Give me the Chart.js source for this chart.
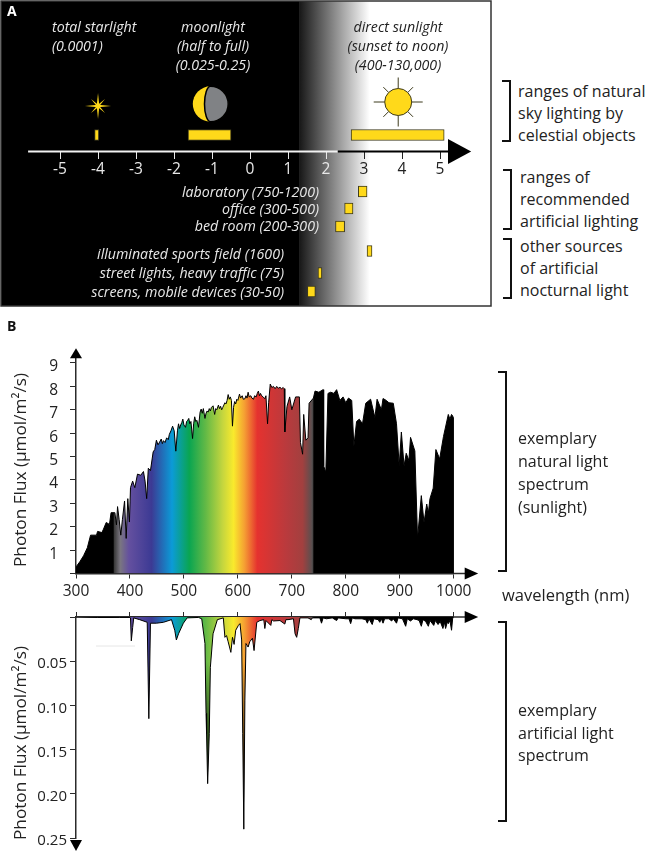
<!DOCTYPE html>
<html>
<head>
<meta charset="utf-8">
<script src="https://cdn.jsdelivr.net/npm/chart.js"></script>
<style>
  html, body { margin: 0; padding: 0; background: #fff; }
  #page { position: relative; width: 649px; height: 853px; overflow: hidden; font-family: "Open Sans", sans-serif; }
  canvas { position: absolute; }
  .note { position: absolute; white-space: nowrap; line-height: 1; transform: translateY(-50%); }
  .bracket { position: absolute; box-sizing: border-box; border: 2px solid #111; border-left: 0; width: 9px; }
</style>
</head>
<body>
<div id="page">
  <canvas id="panelA" width="495" height="310" style="left:0px;top:0px"></canvas>
  <canvas id="panelB1" width="649" height="290" style="left:0px;top:330px"></canvas>
  <canvas id="panelB2" width="649" height="243" style="left:0px;top:610px"></canvas>
</div>
<script>
// ------------------------------------------
//  Data
// ------------------------------------------

// Panel A: log10(lux) ranges
var luxSources = ['total starlight', 'moonlight', 'direct sunlight', 'laboratory', 'office', 'bed room', 'sports field', 'street lights', 'screens'];
var logLuxLow  = [-4.09, -1.63, 2.66, 2.85, 2.49, 2.25, 3.08, 1.79, 1.51];
var logLuxHigh = [-3.98, -0.50, 5.11, 3.08, 2.71, 2.49, 3.21, 1.89, 1.72];
var luxTicks = [-5, -4, -3, -2, -1, 0, 1, 2, 3, 4, 5];

// Panel B, sunlight spectrum
var sunWavelength = [
    300,307,314,321,327,338,340,348,351,356,362,365,372,375,377,380,383,386,390,393,396,399,401,405,409,414,420,425,428,431,434,438,
    443,446,449,452,455,458,460,462,465,468,471,473,476,479,482,485,488,490,492,494,496,498,500,503,505,507,509,511,513,516,518,520,522,524,527,530,532,534,536,539,541,543,545,547,549,551,554,557,559,561,564,566,568,570,572,574,576,578,580,582,584,586,588,590,592,594,596,598,600,603,605,608,610,613,615,617,619,621,624,626,629,631,634,636,638,640,642,644,647,650,652,655,657,660,663,666,669,672,675,678,681,684,
    686,687,691,696,700,707,714,716,720,722,726,730,732,740,743,750,758,759,763,767,772,778,783,789,795,800,805,811,815,820,825,831,837,846,854,858,866,869,875,880,888,894,899,903,908,912,917,920,928,933,940,945,950,953,956,962,967,974,981,990,993,996,1000,1000
];
var sunFlux = [
    0.28,0.5,0.76,1.1,1.64,1.64,1.8,1.75,1.9,2.18,2.1,2.6,2.6,2.08,2.86,2.3,1.64,2.3,3.1,1.5,3.2,2.2,3.67,3.95,3.67,4.25,4.2,4.36,3.95,3.2,4.5,4.4,
    5.2,5.3,5.7,5.5,5.62,5.75,5.55,5.68,5.6,5.8,5.72,5.95,6.1,6.3,6.1,5.23,6.1,6.4,6.2,6.35,6.45,6.6,6.35,6.25,6.5,6.55,6.63,6.4,6.5,5.77,6.4,6.7,6.5,6.55,6.25,6.9,7.03,6.85,7.05,6.63,6.85,6.95,6.9,7.05,6.95,7.1,7.17,6.8,7.05,7.0,7.2,7.05,7.15,7.0,7.1,7.2,7.3,7.25,7.4,7.65,7.45,7.55,7.4,6.3,7.1,7.35,7.25,7.45,7.4,7.67,7.5,7.6,7.45,7.47,7.6,7.5,7.75,7.55,7.6,7.5,7.45,7.6,7.55,7.7,7.8,7.6,7.7,7.6,7.55,7.47,7.6,6.4,7.3,8.1,7.95,8.0,7.9,8.0,7.92,7.96,7.9,7.95,
    7.9,6.05,7.14,7.55,7.0,7.55,7.55,5.6,5.1,6.8,5.7,5.8,7.28,7.5,7.8,7.75,7.86,4.6,4.33,7.7,7.75,7.7,7.86,7.4,7.55,7.3,7.5,7.4,5.44,6.5,6.6,6.4,7.28,7.45,6.67,7.45,7.0,7.48,7.4,7.3,7.28,6.4,4.6,6.05,4.6,5.14,4.83,5.82,5.24,1.5,3.33,2.18,2.97,2.58,3.2,3.65,5.3,4.9,5.85,6.8,6.6,6.8,6.67,0
];

// Panel B, artificial light spectrum
var lampWavelength = [300,340,380,400,401,402.5,405,407,418,432,435,438,449,462,477,483,486,490,499,506,527,533,539,541,542,544,547,549,554,562,573,576,579,582,587,590,593,596,601,604,607,609,611,613,615,619,622,627,630,635,641,648,650,652,661,663,666,678,687,689,693,703,706,709,712,715,730,736,738,752,755,758,764,775,783,786,800,806,809,812,817,830,837,840,843,849,852,860,863,866,869,872,880,885,888,894,897,905,911,914,920,925,932,936,940,943,948,953,956,963,966,971,975,980,983,985,988,990,993,996,998,1000];
var lampFlux = [0,0.0005,0.0005,0.0005,0.001,0.027,0.012,0.001,0.003,0.006,0.115,0.007,0.007,0.006,0.003,0.015,0.026,0.019,0.007,0.001,0.0005,0.002,0.03,0.109,0.132,0.1885,0.132,0.057,0.019,0.003,0.001,0.023,0.021,0.028,0.04,0.023,0.031,0.015,0.0095,0.0075,0.026,0.132,0.24,0.094,0.03,0.034,0.028,0.024,0.038,0.006,0.004,0.003,0.013,0.004,0.0095,0.003,0.0045,0.004,0.008,0.003,0.003,0.002,0.019,0.023,0.013,0.001,0.001,0.003,0.001,0.001,0.007,0.001,0.002,0.001,0.004,0.001,0.002,0.002,0.0075,0.001,0.002,0.002,0.003,0.007,0.002,0.0085,0.002,0.003,0.006,0.002,0.007,0.002,0.002,0.0045,0.002,0.007,0.001,0.002,0.0105,0.002,0.0045,0.002,0.003,0.004,0.0105,0.003,0.005,0.0105,0.004,0.0095,0.004,0.0085,0.005,0.013,0.006,0.013,0.006,0.0075,0.004,0.015,0.002,0];

var fluxTicksUp = [0, 1, 2, 3, 4, 5, 6, 7, 8, 9];
var fluxTicksDown = [0, 0.05, 0.10, 0.15, 0.20, 0.25];
var wavelengthTicks = [300, 400, 500, 600, 700, 800, 900, 1000];

// Rainbow fill, wavelength and colour
var rainbowNm = [300, 369, 371, 382, 398, 440, 478, 510, 540, 572, 592, 612, 636, 690, 720, 738, 741, 1000];
var rainbowColor = ['#000000', '#000000', '#3a3a3a', '#7a7680', '#64509f', '#3c3a94', '#0b9bd7', '#0aa551', '#62b946', '#c5d63e', '#f9ea2c', '#f5a033', '#e5322f', '#b93a3d', '#a2403f', '#555050', '#000000', '#000000'];

// Row of each bar in panel A, measured from the top of the box
var luxRows = [134, 134, 134, 190.5, 207.5, 225.5, 250, 272, 290.5];

// Everything written as text around the charts: [text, x, y, align, size, colour, style]
var notes = [
    ['A', 7, 11, 'left', 14, '#fff', 'bold'],
    ['B', 7, 326, 'left', 14, '#111', 'bold'],
    ['total starlight', 52, 27, 'left', 14.2, '#e8e8e8', 'italic'],
    ['(0.0001)', 52, 46, 'left', 14.2, '#e8e8e8', 'italic'],
    ['moonlight', 213, 27, 'center', 14.2, '#e8e8e8', 'italic'],
    ['(half to full)', 213, 46, 'center', 14.2, '#e8e8e8', 'italic'],
    ['(0.025-0.25)', 213, 65, 'center', 14.2, '#e8e8e8', 'italic'],
    ['direct sunlight', 398, 27, 'center', 14.2, '#222', 'italic'],
    ['(sunset to noon)', 398, 46, 'center', 14.2, '#222', 'italic'],
    ['(400-130,000)', 398, 65, 'center', 14.2, '#222', 'italic'],
    ['laboratory (750-1200)', 319, 192, 'right', 14.2, '#e8e8e8', 'italic'],
    ['office (300-500)', 319, 209, 'right', 14.2, '#e8e8e8', 'italic'],
    ['bed room (200-300)', 319, 226, 'right', 14.2, '#e8e8e8', 'italic'],
    ['illuminated sports field (1600)', 284, 254, 'right', 14.2, '#e8e8e8', 'italic'],
    ['street lights, heavy traffic (75)', 284, 273, 'right', 14.2, '#e8e8e8', 'italic'],
    ['screens, mobile devices (30-50)', 284, 292, 'right', 14.2, '#e8e8e8', 'italic'],
    ['ranges of natural', 518, 91, 'left', 16, '#222', ''],
    ['sky lighting by', 518, 113, 'left', 16, '#222', ''],
    ['celestial objects', 518, 135, 'left', 16, '#222', ''],
    ['ranges of', 520, 177, 'left', 16, '#222', ''],
    ['recommended', 520, 199, 'left', 16, '#222', ''],
    ['artificial lighting', 520, 221, 'left', 16, '#222', ''],
    ['other sources', 520, 246, 'left', 16, '#222', ''],
    ['of artificial', 520, 268, 'left', 16, '#222', ''],
    ['nocturnal light', 520, 290, 'left', 16, '#222', ''],
    ['wavelength (nm)', 502, 595, 'left', 16.5, '#222', ''],
    ['exemplary', 518, 438, 'left', 16, '#222', ''],
    ['natural light', 518, 461, 'left', 16, '#222', ''],
    ['spectrum', 518, 484, 'left', 16, '#222', ''],
    ['(sunlight)', 518, 507, 'left', 16, '#222', ''],
    ['exemplary', 518, 710, 'left', 16, '#222', ''],
    ['artificial light', 518, 733, 'left', 16, '#222', ''],
    ['spectrum', 518, 755, 'left', 16, '#222', '']
];

// Rotated axis titles: [text, centre x, centre y, size]
var axisTitles = [
    ['Photon Flux (µmol/m²/s)', 20, 470, 17.2],
    ['Photon Flux (µmol/m²/s)', 20, 743, 17.2]
];

// Brackets: [x, top, bottom]
var brackets = [[502, 80, 142], [503, 169, 230], [503, 238, 299], [498, 371, 572], [498, 621, 822]];

var sunYellow = '#ffd91a';
var axisColor = '#2b2b2b';

// ------------------------------------------
//  Text and brackets
// ------------------------------------------
var page = document.getElementById('page');
notes.forEach(function (n) {
    var el = document.createElement('div');
    el.className = 'note';
    el.textContent = n[0];
    el.style.top = n[2] + 'px';
    el.style.fontSize = n[4] + 'px';
    el.style.color = n[5];
    el.style.zIndex = 2;
    if (n[6] === 'bold') el.style.fontWeight = 'bold';
    if (n[6] === 'italic') el.style.fontStyle = 'italic';
    if (n[3] === 'right') {
        el.style.right = (649 - n[1]) + 'px';
    } else {
        el.style.left = n[1] + 'px';
        if (n[3] === 'center') el.style.transform = 'translate(-50%, -50%)';
    }
    page.appendChild(el);
});
axisTitles.forEach(function (t) {
    var el = document.createElement('div');
    el.className = 'note';
    el.textContent = t[0];
    el.style.left = t[1] + 'px';
    el.style.top = t[2] + 'px';
    el.style.fontSize = t[3] + 'px';
    el.style.color = '#222';
    el.style.zIndex = 2;
    el.style.transform = 'translate(-50%, -50%) rotate(-90deg)';
    page.appendChild(el);
});
brackets.forEach(function (b) {
    var el = document.createElement('div');
    el.className = 'bracket';
    el.style.left = b[0] + 'px';
    el.style.top = b[1] + 'px';
    el.style.height = (b[2] - b[1]) + 'px';
    page.appendChild(el);
});

// ------------------------------------------
//  Panel A decorations
// ------------------------------------------
function triangle(c, x1, y1, x2, y2, x3, y3, color) {
    c.fillStyle = color;
    c.beginPath();
    c.moveTo(x1, y1);
    c.lineTo(x2, y2);
    c.lineTo(x3, y3);
    c.closePath();
    c.fill();
}

function drawStar(c, x, y) {
    c.fillStyle = sunYellow;
    [[13, 0], [0, 13], [7, 7], [7, -7]].forEach(function (d) {
        var nx = -d[1] / 13 * 1.3, ny = d[0] / 13 * 1.3;
        c.beginPath();
        c.moveTo(x - d[0], y - d[1]);
        c.lineTo(x + nx, y + ny);
        c.lineTo(x + d[0], y + d[1]);
        c.lineTo(x - nx, y - ny);
        c.closePath();
        c.fill();
    });
}

function drawMoon(c, x, y, r) {
    c.fillStyle = sunYellow;
    c.beginPath();
    c.arc(x, y, r, 0, Math.PI * 2);
    c.fill();
    c.fillStyle = '#808285';
    c.strokeStyle = '#000';
    c.lineWidth = 1.5;
    c.beginPath();
    c.arc(x, y, r, -Math.PI / 2, Math.PI / 2);
    c.ellipse(x, y, 6, r, 0, Math.PI / 2, Math.PI * 1.5);
    c.closePath();
    c.fill();
    c.stroke();
}

function drawSun(c, x, y, r) {
    c.strokeStyle = '#3d3a1c';
    c.lineWidth = 1;
    c.beginPath();
    for (var i = 0; i < 8; i++) {
        var a = i * Math.PI / 4;
        var len = i % 2 ? 21 : 24.5;
        c.moveTo(x + Math.cos(a) * r, y + Math.sin(a) * r);
        c.lineTo(x + Math.cos(a) * len, y + Math.sin(a) * len);
    }
    c.stroke();
    c.fillStyle = sunYellow;
    c.beginPath();
    c.arc(x, y, r, 0, Math.PI * 2);
    c.fill();
    c.stroke();
}

var panelAPlugin = {
    id: 'panelA',
    beforeDraw: function (chart) {
        var c = chart.ctx, a = chart.chartArea, sx = chart.scales.x;
        var g = c.createLinearGradient(sx.getPixelForValue(1.29), 0, sx.getPixelForValue(3.15), 0);
        g.addColorStop(0, '#161616');
        g.addColorStop(0.5, '#8a8a8a');
        g.addColorStop(1, '#ffffff');
        c.save();
        c.fillStyle = '#fff';
        c.fillRect(a.left, a.top, a.width, a.height);
        c.fillStyle = '#000';
        c.fillRect(a.left, a.top, sx.getPixelForValue(1.29) - a.left, a.height);
        c.fillStyle = g;
        c.fillRect(sx.getPixelForValue(1.29), a.top, sx.getPixelForValue(3.15) - sx.getPixelForValue(1.29), a.height);
        c.restore();
    },
    afterDatasetsDraw: function (chart) {
        var c = chart.ctx, a = chart.chartArea, sx = chart.scales.x, sy = chart.scales.y;
        var axisY = sy.getPixelForValue(150.5);
        c.save();
        // log axis, white then black, then the arrow
        c.lineWidth = 2;
        c.strokeStyle = '#f2f2f2';
        c.beginPath();
        c.moveTo(sx.getPixelForValue(-5.84), axisY);
        c.lineTo(sx.getPixelForValue(2.31), axisY);
        c.stroke();
        c.strokeStyle = '#000';
        c.beginPath();
        c.moveTo(sx.getPixelForValue(2.31), axisY);
        c.lineTo(sx.getPixelForValue(5.3), axisY);
        c.stroke();
        triangle(c, sx.getPixelForValue(5.21), axisY - 12.5, sx.getPixelForValue(5.82), axisY, sx.getPixelForValue(5.21), axisY + 12.5, '#000');

        drawStar(c, sx.getPixelForValue(-4), sy.getPixelForValue(105));
        drawMoon(c, sx.getPixelForValue(-1.04), sy.getPixelForValue(103), 17.7);
        drawSun(c, sx.getPixelForValue(3.9), sy.getPixelForValue(101), 13.5);

        // frame
        c.strokeStyle = '#333';
        c.lineWidth = 1.5;
        c.strokeRect(a.left, a.top, a.width, a.height);
        c.restore();
    }
};

new Chart(document.getElementById('panelA'), {
    type: 'bar',
    plugins: [panelAPlugin],
    data: {
        labels: luxSources,
        datasets: [{
            data: logLuxLow.map(function (low, i) {
                return { x: [low, logLuxHigh[i]], y: luxRows[i] };
            }),
            backgroundColor: sunYellow,
            borderColor: '#3d3a1c',
            borderWidth: 1,
            borderSkipped: false,
            barThickness: 11
        }]
    },
    options: {
        indexAxis: 'y',
        responsive: false,
        animation: false,
        layout: { padding: { left: 1, top: 1, right: 4, bottom: 4 } },
        plugins: { legend: { display: false }, tooltip: { enabled: false } },
        scales: {
            x: {
                type: 'linear',
                min: -6.553,
                max: 6.342,
                position: { y: 150.5 },
                afterBuildTicks: function (axis) {
                    axis.ticks = luxTicks.map(function (v) { return { value: v }; });
                },
                border: { display: false },
                grid: {
                    drawOnChartArea: false,
                    tickLength: 7,
                    tickColor: function (ctx) { return ctx.tick.value >= 2.5 ? '#222' : '#e8e8e8'; }
                },
                ticks: {
                    autoSkip: false,
                    maxRotation: 0,
                    padding: 2,
                    font: { size: 15.5, family: 'Open Sans' },
                    color: function (ctx) { return ctx.tick.value >= 2.5 ? '#222' : '#e8e8e8'; }
                }
            },
            y: { type: 'linear', display: false, offset: false, reverse: true, min: 0, max: 305 }
        }
    }
});

// ------------------------------------------
//  Panel B
// ------------------------------------------
function rainbowFill(context) {
    var chart = context.chart;
    if (!chart.chartArea) return '#000';
    var sx = chart.scales.x;
    var g = chart.ctx.createLinearGradient(sx.getPixelForValue(300), 0, sx.getPixelForValue(1000), 0);
    rainbowNm.forEach(function (nm, i) {
        g.addColorStop((nm - 300) / 700, rainbowColor[i]);
    });
    return g;
}

function toPoints(xs, ys) {
    return xs.map(function (x, i) { return { x: x, y: ys[i] }; });
}

function fixedTicks(values) {
    return function (axis) {
        axis.ticks = values.map(function (v) { return { value: v }; });
    };
}

function spectrumDataset(xs, ys) {
    return {
        data: toPoints(xs, ys),
        parsing: false,
        borderColor: '#000',
        borderWidth: 1,
        pointRadius: 0,
        tension: 0,
        fill: 'origin',
        backgroundColor: rainbowFill
    };
}

var arrowsUpper = {
    id: 'arrowsUpper',
    afterDatasetsDraw: function (chart) {
        var c = chart.ctx, a = chart.chartArea;
        c.save();
        c.strokeStyle = axisColor;
        c.lineWidth = 1.5;
        c.beginPath();
        c.moveTo(a.right, a.bottom);
        c.lineTo(a.right + 14, a.bottom);
        c.stroke();
        triangle(c, a.right + 11, a.bottom - 6, a.right + 24.5, a.bottom, a.right + 11, a.bottom + 6, '#000');
        triangle(c, a.left - 6, a.top + 7, a.left, a.top - 3, a.left + 6, a.top + 7, '#000');
        c.restore();
    }
};

var arrowsLower = {
    id: 'arrowsLower',
    afterDatasetsDraw: function (chart) {
        var c = chart.ctx, a = chart.chartArea, sy = chart.scales.y;
        c.save();
        // spikes go dark as they get deep
        var top = sy.getPixelForValue(0.05), bottom = sy.getPixelForValue(0.2);
        var g = c.createLinearGradient(0, top, 0, bottom);
        g.addColorStop(0, 'rgba(0,0,0,0)');
        g.addColorStop(1, 'rgba(0,0,0,1)');
        c.globalCompositeOperation = 'source-atop';
        c.fillStyle = g;
        c.fillRect(a.left + 1, top, a.width, a.bottom - top);
        c.globalCompositeOperation = 'source-over';

        c.strokeStyle = axisColor;
        c.lineWidth = 1.5;
        c.beginPath();
        c.moveTo(a.right, a.top);
        c.lineTo(a.right + 14, a.top);
        c.stroke();
        triangle(c, a.right + 11, a.top - 6, a.right + 24.5, a.top, a.right + 11, a.top + 6, '#000');
        triangle(c, a.left - 6, a.bottom + 2, a.left, a.bottom + 13, a.left + 6, a.bottom + 2, '#000');
        // faint scan mark under the axis
        c.strokeStyle = '#e6e6e6';
        c.lineWidth = 1;
        c.beginPath();
        c.moveTo(96, a.top + 29);
        c.lineTo(135, a.top + 29);
        c.stroke();
        c.restore();
    }
};

var tickFont = { size: 15.5, family: 'Open Sans' };
var smallTickFont = { size: 15, family: 'Open Sans' };

new Chart(document.getElementById('panelB1'), {
    type: 'line',
    plugins: [arrowsUpper],
    data: { datasets: [spectrumDataset(sunWavelength, sunFlux)] },
    options: {
        responsive: false,
        animation: false,
        layout: { padding: { left: 0, top: 10.75, right: 195.3, bottom: 0 } },
        plugins: { legend: { display: false }, tooltip: { enabled: false } },
        scales: {
            x: {
                type: 'linear',
                min: 300,
                max: 1000,
                afterBuildTicks: fixedTicks(wavelengthTicks),
                afterFit: function (axis) { axis.height = 46.5; },
                border: { color: axisColor, width: 1.5 },
                grid: { drawOnChartArea: false, tickLength: 5, tickColor: axisColor },
                ticks: {
                    autoSkip: false,
                    maxRotation: 0,
                    padding: 4,
                    color: '#222',
                    font: tickFont,
                    callback: function (v) { return String(v); }
                }
            },
            y: {
                type: 'linear',
                min: 0,
                max: 9.5,
                afterBuildTicks: fixedTicks(fluxTicksUp),
                afterFit: function (axis) { axis.width = 76; },
                border: { color: axisColor, width: 1.5 },
                grid: { drawOnChartArea: false, tickLength: 6, tickColor: axisColor },
                ticks: {
                    padding: 12,
                    labelOffset: 4,
                    color: '#222',
                    font: tickFont,
                    callback: function (v) { return v === 0 ? '' : v; }
                }
            }
        }
    }
});

new Chart(document.getElementById('panelB2'), {
    type: 'line',
    plugins: [arrowsLower],
    data: { datasets: [spectrumDataset(lampWavelength, lampFlux)] },
    options: {
        responsive: false,
        animation: false,
        layout: { padding: { left: 0, top: 0, right: 195.3, bottom: 15 } },
        plugins: { legend: { display: false }, tooltip: { enabled: false } },
        scales: {
            x: {
                type: 'linear',
                position: 'top',
                min: 300,
                max: 1000,
                afterBuildTicks: fixedTicks(wavelengthTicks),
                afterFit: function (axis) { axis.height = 7; },
                border: { color: axisColor, width: 1.5 },
                grid: { drawOnChartArea: false, tickLength: 5, tickColor: axisColor },
                ticks: { display: false }
            },
            y: {
                type: 'linear',
                reverse: true,
                min: 0,
                max: 0.25,
                afterBuildTicks: fixedTicks(fluxTicksDown),
                afterFit: function (axis) {
                    axis.width = 76;
                    axis.paddingTop = 0;
                    axis.paddingBottom = 0;
                },
                border: { color: axisColor, width: 1.5 },
                grid: { drawOnChartArea: false, tickLength: 6, tickColor: axisColor },
                ticks: {
                    padding: 3,
                    labelOffset: 3,
                    color: '#222',
                    font: smallTickFont,
                    callback: function (v) { return v === 0 ? '' : v.toFixed(2); }
                }
            }
        }
    }
});
</script>
</body>
</html>
